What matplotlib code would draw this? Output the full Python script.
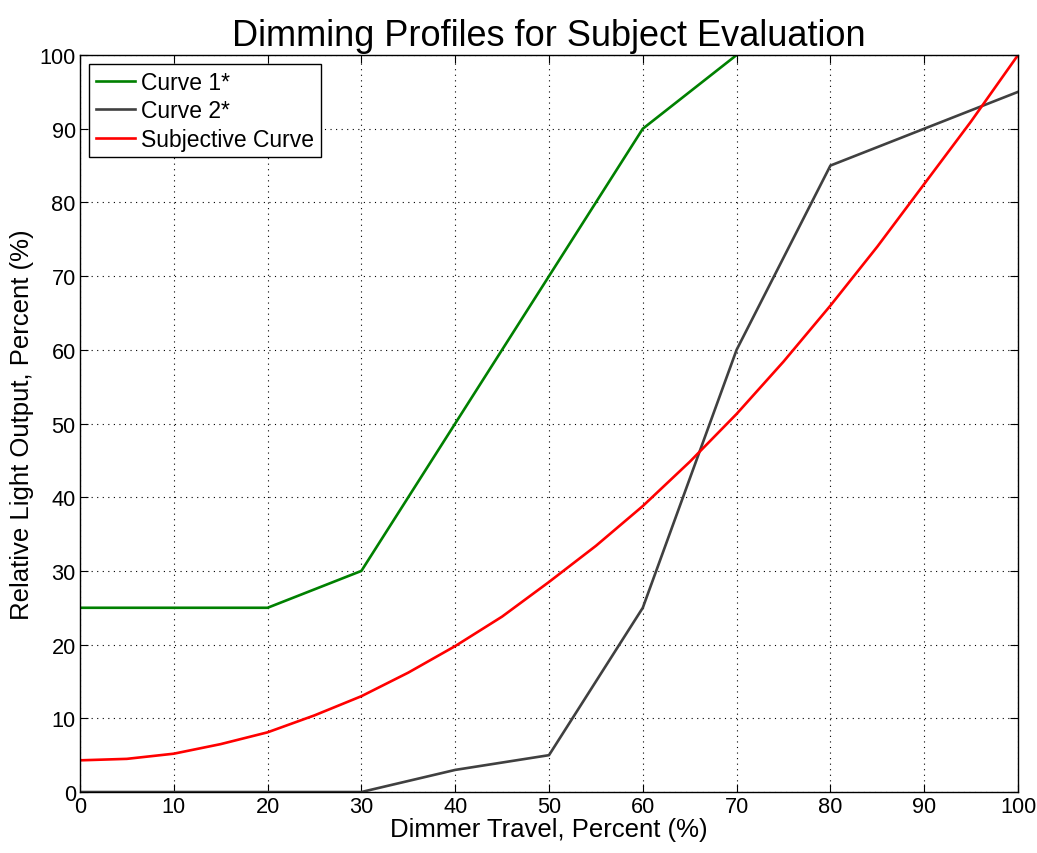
import matplotlib
matplotlib.use("Agg")
import matplotlib.pyplot as plt

# dimmer travel (%) and relative light output (%)
curve1_x = [0, 20, 30, 40, 50, 60, 70]
curve1_y = [25, 25, 30, 50, 70, 90, 100]

curve2_x = [0, 30, 40, 50, 60, 70, 80, 100]
curve2_y = [0, 0, 3, 5, 25, 60, 85, 95]

subj_x = [0, 5, 10, 15, 20, 25, 30, 35, 40, 45, 50,
          55, 60, 65, 70, 75, 80, 85, 90, 95, 100]
subj_y = [4.3, 4.5, 5.2, 6.5, 8.1, 10.4, 13.0, 16.2, 19.8, 23.8, 28.5,
          33.4, 38.8, 44.8, 51.3, 58.4, 66.0, 74.0, 82.5, 91.0, 100.0]

plt.rcParams["font.family"] = ["Liberation Sans", "DejaVu Sans"]

fig = plt.figure(figsize=(10.37, 8.54), dpi=100)
ax = fig.add_axes([0.0771, 0.0714, 0.9046, 0.863])

ax.plot(curve1_x, curve1_y, color="#008000", lw=1.9, label="Curve 1*")
ax.plot(curve2_x, curve2_y, color="#404040", lw=1.9, label="Curve 2*")
ax.plot(subj_x, subj_y, color="#ff0000", lw=1.9, label="Subjective Curve")

ax.set_xlim(0, 100)
ax.set_ylim(0, 100)
ax.set_xticks(range(0, 101, 10))
ax.set_yticks(range(0, 101, 10))
ax.grid(True, color="black", linestyle=(0, (1, 4)), linewidth=0.8)
ax.tick_params(direction="in", top=True, right=True, length=6, labelsize=15.7, pad=3)
for s in ax.spines.values():
    s.set_linewidth(1.0)

ax.set_title("Dimming Profiles for Subject Evaluation", fontsize=26, pad=7)
ax.set_xlabel("Dimmer Travel, Percent (%)", fontsize=18.5, labelpad=0)
ax.set_ylabel("Relative Light Output, Percent (%)", fontsize=18.5, labelpad=4)

leg = ax.legend(loc="upper left", fontsize=16.5, fancybox=False, framealpha=1,
                edgecolor="black", borderpad=0.3, labelspacing=0.23,
                handlelength=1.7, handletextpad=0.25, borderaxespad=0.4)
leg.get_frame().set_linewidth(1.0)

fig.savefig("out.png", dpi=100)
